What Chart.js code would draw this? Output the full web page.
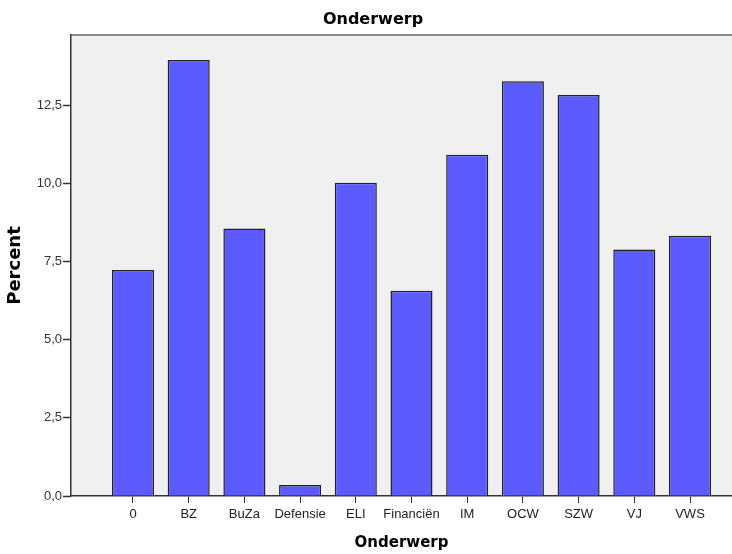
<!DOCTYPE html>
<html>
<head>
<meta charset="utf-8">
<script src="https://cdn.jsdelivr.net/npm/chart.js@4"></script>
<style>
html,body{margin:0;padding:0;background:#fff}
#wrap{width:732px;height:554px}
</style>
</head>
<body>
<div id="wrap"><canvas id="chart"></canvas></div>
<script>
"use strict"

var categories = ["0","BZ","BuZa","Defensie","ELI","Financiën","IM","OCW","SZW","VJ","VWS"]
var percents = [7.23,13.95,8.56,0.35,10.02,6.57,10.92,13.27,12.83,7.89,8.33]
var yTicks = [0,2.5,5,7.5,10,12.5]

var tickFont = {family: "'Liberation Sans', Arial, sans-serif", size: 13}
var titleFont = function(size){ return {family: "'DejaVu Sans', Verdana, sans-serif", size: size, weight: 'bold'} }

// grey plot area with the thin top border, like the SPSS frame
var plotBackground = {
	id: 'plotBackground',
	beforeDraw: function(chart){
		var a = chart.chartArea, ctx = chart.ctx
		ctx.save()
		ctx.fillStyle = '#f0f0f0'
		ctx.fillRect(a.left, a.top, a.right - a.left, a.bottom - a.top)
		ctx.strokeStyle = '#8c8c8c'
		ctx.lineWidth = 2
		ctx.beginPath()
		ctx.moveTo(a.left, a.top)
		ctx.lineTo(a.right, a.top)
		ctx.stroke()
		ctx.restore()
	}
}

new Chart(document.getElementById('chart'), {
	type: 'bar',
	data: {
		datasets: [{
			label: 'Percent',
			data: categories.map(function(c, i){ return {x: i, y: percents[i]} }),
			backgroundColor: '#5b5bff',
			borderColor: '#222',
			borderWidth: 1.5,
			barPercentage: 0.755,
			categoryPercentage: 1
		}]
	},
	plugins: [plotBackground],
	options: {
		responsive: true,
		maintainAspectRatio: false,
		animation: false,
		devicePixelRatio: 1,
		layout: {padding: {left: -5, right: -19, top: 0, bottom: 0}},
		plugins: {
			legend: {display: false},
			tooltip: {enabled: false},
			title: {
				display: true,
				text: 'Onderwerp',
				color: '#000',
				font: titleFont(16),
				padding: {top: 10, bottom: 5.8}
			}
		},
		scales: {
			x: {
				type: 'linear',
				position: 'bottom',
				min: -1.113,
				max: 10.754,
				offset: false,
				grid: {offset: false, drawOnChartArea: false, drawTicks: true, tickLength: 7, tickWidth: 1, tickColor: '#333'},
				border: {display: true, color: '#333', width: 1.5},
				afterBuildTicks: function(s){ s.ticks = categories.map(function(c, i){ return {value: i} }) },
				ticks: {
					stepSize: 1,
					autoSkip: false,
					maxRotation: 0,
					font: tickFont,
					color: '#222',
					padding: 4,
					callback: function(v){ return categories[v] }
				},
				title: {display: true, text: 'Onderwerp', color: '#000', font: titleFont(15), padding: {top: 0, bottom: 1.5}},
				afterFit: function(s){ s.height = 58 }
			},
			y: {
				position: 'left',
				min: 0,
				max: 14.75,
				grid: {drawOnChartArea: false, drawTicks: true, tickLength: 8, tickWidth: 1.5, tickColor: '#333'},
				border: {display: true, color: '#333', width: 1.5},
				afterBuildTicks: function(s){ s.ticks = yTicks.map(function(v){ return {value: v} }) },
				ticks: {
					font: tickFont,
					color: '#333',
					padding: 1,
					callback: function(v){ return v.toFixed(1).replace('.', ',') }
				},
				title: {display: true, text: 'Percent', color: '#000', font: titleFont(18), padding: {top: 9.2, bottom: 0}},
				afterFit: function(s){ s.width = 76 }
			}
		}
	}
})
</script>
</body>
</html>
